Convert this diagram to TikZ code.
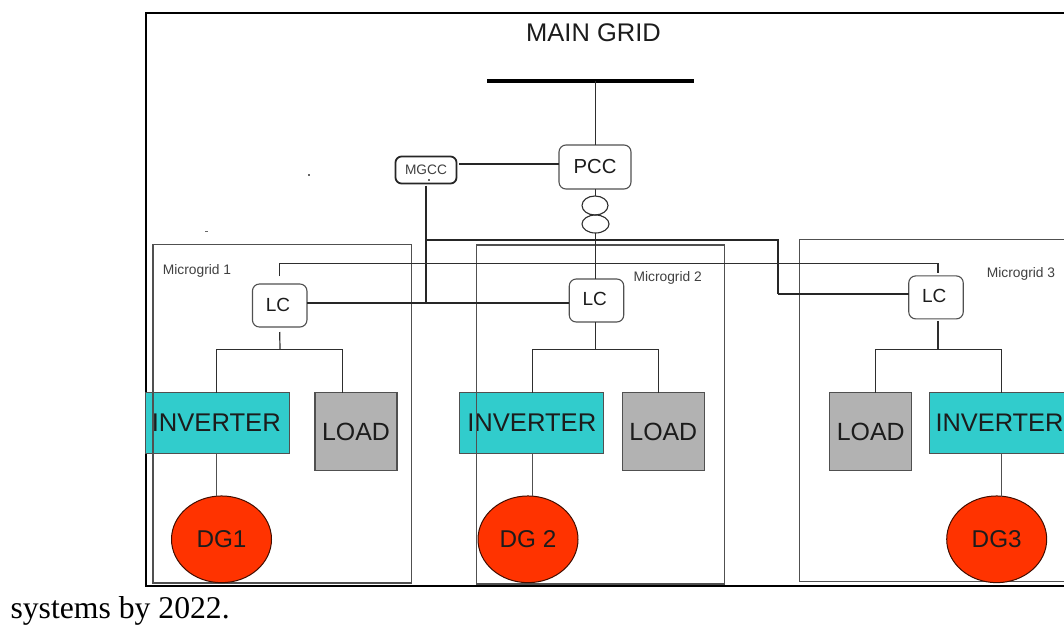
\documentclass[tikz,border=0pt]{standalone}
\usepackage{fontspec}
\setmainfont{Liberation Sans}
\newfontfamily\serifcaption{Liberation Serif}
\definecolor{inkc}{HTML}{1C1C1C}
\definecolor{linec}{HTML}{2E2E2E}
\definecolor{edgec}{HTML}{505050}
\definecolor{tealc}{HTML}{31CCCC}
\definecolor{loadc}{HTML}{B2B2B2}
\definecolor{redc}{HTML}{FF3300}
\newcommand{\pxfont}[1]{\fontsize{#1}{#1}\selectfont}
\tikzset{
  x=1pt,y=-1pt,
  every node/.style={inner sep=0pt,outer sep=0pt,text=inkc},
  mgbox/.style={draw=edgec,line width=1.2pt,rectangle},
  ctrl/.style={draw=edgec,line width=1.1pt,fill=white,rounded corners=7pt,rectangle},
  lcbox/.style={ctrl,minimum width=54.5pt,minimum height=43pt,font=\pxfont{19}},
  invbox/.style={draw=edgec,line width=1pt,fill=tealc,minimum width=143.7pt,minimum height=60.5pt,font=\pxfont{25.6}},
  loadbox/.style={draw=edgec,line width=1.2pt,fill=loadc,minimum width=82pt,minimum height=78pt,font=\pxfont{24.9}},
  dgnode/.style={draw=black!75!redc,line width=1pt,fill=redc,ellipse,minimum width=100pt,minimum height=86.7pt,font=\pxfont{24.3}},
  mglabel/.style={font=\pxfont{13.8},text=black!75},
  thin link/.style={draw=linec,line width=1.2pt},
  thick link/.style={draw=black!85,line width=2pt},
  mid link/.style={draw=black!85,line width=1.6pt},
  speck/.style={fill=black!60,rectangle,minimum width=1.5pt,minimum height=1.5pt},
}
\usetikzlibrary{shapes.geometric}
\begin{document}
\begin{tikzpicture}
\clip[use as bounding box] (0,0) rectangle (1064,624);
\fill[white] (0,0) rectangle (1064,624);

% outer frame
\draw[black,line width=2.5pt] (146,13) rectangle (1090,586);

% coloured boxes that the microgrid frames run across
\node[invbox] (inv1) at (217.8,423) {\raisebox{1pt}{\hspace*{-3pt}INVERTER}};
\node[invbox] (inv2) at (531.8,423) {\raisebox{1pt}{INVERTER}};
\node[invbox,font=\pxfont{25.4}] (inv3) at (1001.2,423) {\raisebox{1pt}{\hspace*{-3.4pt}INVERTER}};
\node[loadbox] (load1) at (356,431.7) {LOAD};
\node[loadbox] (load2) at (663.3,431.7) {LOAD};
\node[loadbox] (load3) at (870.7,431.7) {LOAD};

% microgrid frames
\node[mgbox,minimum width=258.4pt,minimum height=338.7pt] (mg1) at (282.2,413.7) {};
\node[mgbox,minimum width=248.3pt,minimum height=339pt] (mg2) at (600.5,414.5) {};
\node[mgbox,minimum width=320pt,minimum height=342.4pt] (mg3) at (959.3,410.5) {};
\node[mglabel] (mg1t) at (197,270.7) {Microgrid 1};
\node[mglabel] (mg2t) at (667.7,278) {Microgrid 2};
\node[mglabel] (mg3t) at (1021,273.7) {Microgrid 3};

% title and bus
\node[font=\pxfont{25.5}] (title) at (593.5,33) {MAIN GRID};
\coordinate (busL) at (487,80.7);
\coordinate (busR) at (694,80.7);
\coordinate (busT) at (595.7,80.7);
\draw[black,line width=4pt] (busL) -- (busR);

% controllers
\node[ctrl,minimum width=72pt,minimum height=44pt,font=\pxfont{20.3}] (pcc) at (595,167) {\raisebox{-1pt}{PCC}};
\node[draw=black!85,line width=1.8pt,fill=white,rounded corners=6pt,rectangle,minimum width=61pt,minimum height=27pt,font=\pxfont{13.7},text=black!75] (mgcc) at (426,170) {\raisebox{1.5pt}{MGCC}};
\node[lcbox] (lc1) at (279.7,305.5) {\raisebox{1.5pt}{\hspace*{-3.4pt}LC}};
\node[lcbox] (lc2) at (596.5,300.5) {\raisebox{2.5pt}{\hspace*{-3.4pt}LC}};
\node[lcbox] (lc3) at (936,297.4) {\raisebox{2.4pt}{\hspace*{-3.6pt}LC}};

% transformer
\node[draw=linec,line width=1.1pt,ellipse,minimum width=26pt,minimum height=19pt] (tr1) at (595,205.5) {};
\node[draw=linec,line width=1.1pt,ellipse,minimum width=27pt,minimum height=18pt] (tr2) at (595.5,224) {};

% generators
\node[dgnode] (dg1) at (221.5,539.3) {DG1};
\node[dgnode] (dg2) at (528,539.3) {DG 2};
\node[dgnode] (dg3) at (996.7,539.3) {DG3};

% named routing points
\coordinate (commy) at (600,263.2);
\coordinate (thickA) at (426,239.7);
\coordinate (thickB) at (777.7,239.7);
\coordinate (thickC) at (777.7,293.7);
\coordinate (lcJoin) at (426,303);
\coordinate (br1) at (280,349.5);
\coordinate (br2) at (595.7,349.5);
\coordinate (br3) at (938,349.5);

% main vertical
\draw[thin link] (busT) -- (busT |- pcc.north);
\draw[thin link] (busT |- pcc.south) -- (busT |- tr1.north);
\draw[thin link] (busT |- tr2.south) -- (busT |- lc2.north);

% control links
\draw[thick link,line width=1.5pt] ([yshift=3pt]pcc.west) -- ([xshift=2pt,yshift=6pt]mgcc.east);
\draw[thick link] ([yshift=-2pt]mgcc.south) -- (lcJoin);
\draw[thick link] (thickA) -- (thickB) -- (thickC);
\draw[mid link] (thickC) -- (thickC -| lc3.west);
\draw[mid link] ([yshift=2.5pt]lc1.east) -- ([yshift=-2.5pt]lc2.west);

% communication line between LC1 and LC3
\draw[thin link] ([yshift=8pt]lc1.north) |- (commy) -| ([xshift=2pt,yshift=3pt]lc3.north);

% local branches
\draw[thin link] ([yshift=-5pt]lc1.south) -- (br1);
\draw[thin link] (inv1.north) ++(-1.2,0) |- (br1) -| (342.5,392.7);
\draw[thin link] (busT |- lc2.south) -- (br2);
\draw[thin link] (inv2.north) ++(1,0) |- (br2) -| (658.5,392.7);
\draw[thin link] ([xshift=2pt,yshift=-2pt]lc3.south) -- (br3);
\draw[thin link] (875.3,392.7) |- (br3) -| (inv3.north);

% inverter to generator
\draw[draw=edgec,line width=1.2pt] (216.6,453.2) -- (216.6,496.3);
\draw[draw=edgec,line width=1.2pt] (532.7,453.2) -- (532.7,496.3);
\draw[draw=edgec,line width=1.2pt] (inv3.south) -- (1001.2,496.6);

% specks
\node[speck] (sp1) at (309,175) {};
\node[speck,minimum width=3pt,minimum height=1pt] (sp2) at (206,231.5) {};
\node[speck] (sp3) at (429,180) {};

% caption fragment
\node[anchor=base west,font=\serifcaption\pxfont{31.7},text=black] (cap) at (10.5,618) {systems by 2022.};
\end{tikzpicture}
\end{document}
